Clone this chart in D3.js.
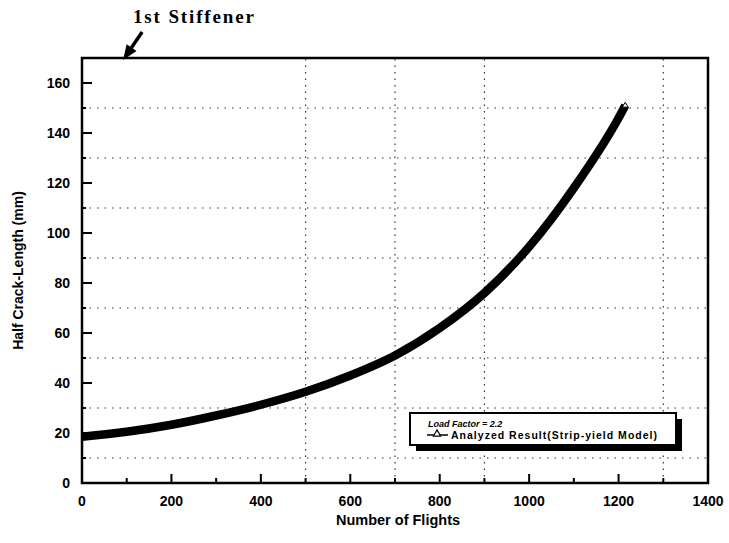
<!DOCTYPE html>
<html>
<head>
<meta charset="utf-8">
<script src="https://cdn.jsdelivr.net/npm/d3@7"></script>
<style>
  body { margin: 0; background: #fff; }
</style>
</head>
<body>
<div id="chart"></div>
<script>
// data
const flights = [0, 100, 200, 300, 400, 500, 600, 700, 800, 900, 1000, 1100, 1200, 1215];
const crackLength = [18.5, 20.5, 23.3, 27, 31.3, 36.5, 43, 51, 62, 76, 94.5, 118, 146, 151];

const xTicks = [0, 200, 400, 600, 800, 1000, 1200, 1400];
const xMinorTicks = [100, 300, 500, 700, 900, 1100, 1300];
const yTicks = [0, 20, 40, 60, 80, 100, 120, 140, 160];
const yGrid = [10, 30, 50, 70, 90, 110, 130, 150];
const xGrid = [500, 700, 900, 1300];

const stiffener = { label: "1st Stiffener", flights: 92 };
const legendTitle = "Load Factor = 2.2";
const seriesName = "Analyzed Result(Strip-yield Model)";

const W = 729, H = 543;
const margin = { top: 58, left: 82, right: 21, bottom: 60 };
const sans = "'Liberation Sans', Arial, Helvetica, sans-serif";

const svg = d3.select("#chart").append("svg")
    .attr("width", W).attr("height", H)
    .style("font-family", sans);
svg.append("rect").attr("width", W).attr("height", H).attr("fill", "#fff");

const x = d3.scaleLinear().domain([0, 1400]).range([margin.left, W - margin.right]);
const y = d3.scaleLinear().domain([0, 170]).range([H - margin.bottom, margin.top]);

const g = svg.append("g");

// dotted grid
g.selectAll("line.hgrid")
    .data(yGrid)
    .join("line")
    .attr("class", "hgrid")
    .attr("x1", x(0)).attr("x2", x(1400))
    .attr("y1", d => y(d)).attr("y2", d => y(d))
    .attr("stroke", "#333")
    .attr("stroke-width", 1.2)
    .attr("stroke-dasharray", "1.5,6");

g.selectAll("line.vgrid")
    .data(xGrid)
    .join("line")
    .attr("class", "vgrid")
    .attr("x1", d => x(d)).attr("x2", d => x(d))
    .attr("y1", y(0)).attr("y2", y(170))
    .attr("stroke", "#333")
    .attr("stroke-width", 1.2)
    .attr("stroke-dasharray", "1.5,5");

// inward ticks
g.selectAll("line.ytick")
    .data(yTicks.slice(1))
    .join("line")
    .attr("x1", x(0)).attr("x2", x(0) + 10)
    .attr("y1", d => y(d)).attr("y2", d => y(d))
    .attr("stroke", "#000").attr("stroke-width", 2);

g.selectAll("line.yminor")
    .data(yGrid)
    .join("line")
    .attr("x1", x(0)).attr("x2", x(0) + 4)
    .attr("y1", d => y(d)).attr("y2", d => y(d))
    .attr("stroke", "#000").attr("stroke-width", 2);

g.selectAll("line.xtick")
    .data(xTicks.slice(1, -1))
    .join("line")
    .attr("x1", d => x(d)).attr("x2", d => x(d))
    .attr("y1", y(0)).attr("y2", y(0) - 9)
    .attr("stroke", "#000").attr("stroke-width", 2);

g.selectAll("line.xminor")
    .data(xMinorTicks)
    .join("line")
    .attr("x1", d => x(d)).attr("x2", d => x(d))
    .attr("y1", y(0)).attr("y2", y(0) - 5)
    .attr("stroke", "#000").attr("stroke-width", 2);

// frame
g.append("rect")
    .attr("x", x(0)).attr("y", y(170))
    .attr("width", x(1400) - x(0)).attr("height", y(0) - y(170))
    .attr("fill", "none").attr("stroke", "#000").attr("stroke-width", 2.5);

// tick labels
g.selectAll("text.xlab")
    .data(xTicks)
    .join("text")
    .attr("x", d => x(d)).attr("y", y(0) + 23)
    .attr("text-anchor", "middle")
    .attr("font-size", 14).attr("font-weight", "bold")
    .text(d => d);

g.selectAll("text.ylab")
    .data(yTicks)
    .join("text")
    .attr("x", x(0) - 12).attr("y", d => y(d) + 5)
    .attr("text-anchor", "end")
    .attr("font-size", 14).attr("font-weight", "bold")
    .text(d => d);

svg.append("text")
    .attr("x", 398).attr("y", 525)
    .attr("text-anchor", "middle")
    .attr("font-size", 14.5).attr("font-weight", "bold")
    .text("Number of Flights");

svg.append("text")
    .attr("transform", `translate(23,${(y(0) + y(170)) / 2}) rotate(-90)`)
    .attr("text-anchor", "middle")
    .attr("font-size", 14).attr("font-weight", "bold")
    .text("Half Crack-Length (mm)");

// curve
const pts = flights.map((f, i) => [f, crackLength[i]]);
const line = d3.line()
    .x(d => x(d[0]))
    .y(d => y(d[1]))
    .curve(d3.curveMonotoneX);

g.append("path")
    .datum(pts)
    .attr("d", line)
    .attr("fill", "none")
    .attr("stroke", "#000")
    .attr("stroke-width", 8.5);

const last = pts[pts.length - 1];
g.append("path")
    .attr("d", d3.symbol(d3.symbolTriangle, 14)())
    .attr("transform", `translate(${x(last[0])},${y(last[1])})`)
    .attr("fill", "#fff").attr("stroke", "#000").attr("stroke-width", 1);

// legend
const lg = svg.append("g").attr("transform", "translate(410,413)");
lg.append("rect").attr("x", 6).attr("y", 6).attr("width", 266).attr("height", 32).attr("fill", "#000");
lg.append("rect").attr("x", 0).attr("y", 0).attr("width", 266).attr("height", 32)
    .attr("fill", "#fff").attr("stroke", "#000").attr("stroke-width", 2);
lg.append("text")
    .attr("x", 18).attr("y", 14)
    .attr("font-size", 9).attr("font-weight", "bold").attr("font-style", "italic")
    .text(legendTitle);
lg.append("line")
    .attr("x1", 17).attr("x2", 38).attr("y1", 22).attr("y2", 22)
    .attr("stroke", "#000").attr("stroke-width", 1.5);
lg.append("path")
    .attr("d", d3.symbol(d3.symbolTriangle, 22)())
    .attr("transform", "translate(27,21)")
    .attr("fill", "#fff").attr("stroke", "#000").attr("stroke-width", 1.2);
lg.append("text")
    .attr("x", 41).attr("y", 25.5)
    .attr("font-size", 10.5).attr("font-weight", "bold")
    .attr("textLength", 206)
    .text(seriesName);

// annotation
const tipX = x(stiffener.flights), tipY = y(170) + 2;
svg.append("line")
    .attr("x1", tipX + 19).attr("y1", tipY - 28)
    .attr("x2", tipX + 6).attr("y2", tipY - 9)
    .attr("stroke", "#000").attr("stroke-width", 3.5);
const ang = Math.atan2(28, -19);
const hl = 15, hw = 6;
const bx = tipX - Math.cos(ang) * hl, by = tipY - Math.sin(ang) * hl;
svg.append("path")
    .attr("d", `M${tipX},${tipY} L${bx - Math.sin(ang) * hw},${by + Math.cos(ang) * hw} L${bx + Math.sin(ang) * hw},${by - Math.cos(ang) * hw} Z`)
    .attr("fill", "#000");

svg.append("text")
    .attr("x", 133).attr("y", 23)
    .style("font-family", "'Liberation Serif', 'Times New Roman', serif")
    .attr("font-size", 19).attr("font-weight", "bold")
    .attr("textLength", 121)
    .text(stiffener.label);
</script>
</body>
</html>
